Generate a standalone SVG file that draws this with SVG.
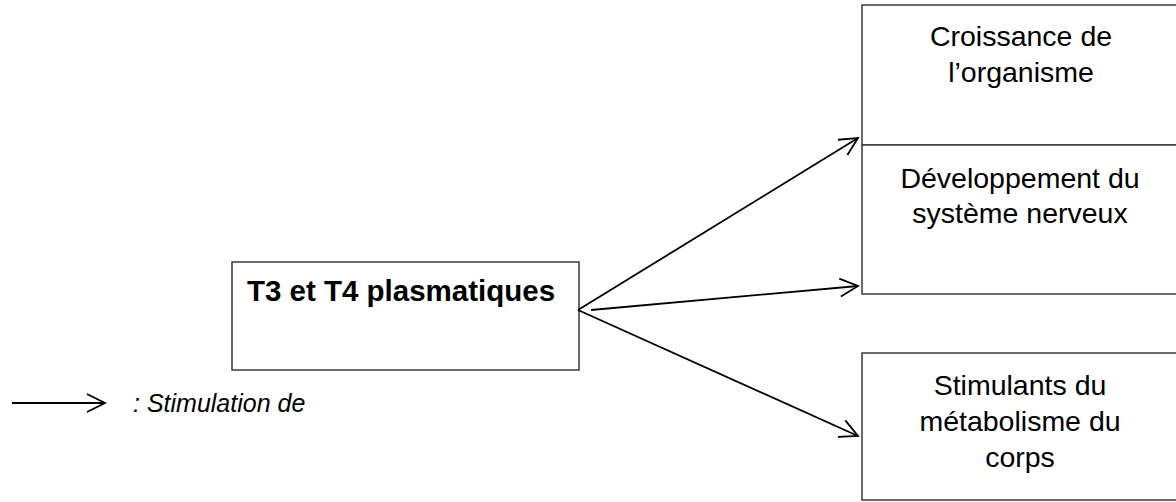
<svg xmlns="http://www.w3.org/2000/svg" width="1176" height="502" viewBox="0 0 1176 502">
  <style>
    .box { fill: #ffffff; stroke: #3a3a3a; stroke-width: 1.5; }
    .lbl { font-family: "Liberation Sans", Arial, sans-serif; font-size: 28.5px; fill: #000000; text-anchor: middle; }
    .bold { font-weight: bold; font-size: 29.5px; }
    .legend { font-family: "Liberation Sans", Arial, sans-serif; font-size: 25px; font-style: italic; fill: #000000; }
    .arrow { stroke: #000000; stroke-width: 1.8; fill: none; marker-end: url(#chevron); }
  </style>
  <defs>
    <marker id="chevron" viewBox="-20 -11 22 22" markerWidth="22" markerHeight="22" refX="0" refY="0" orient="auto" markerUnits="userSpaceOnUse">
      <path d="M -18 -9 L 0 0 L -18 9" fill="none" stroke="#000000" stroke-width="1.8" stroke-linejoin="miter"/>
    </marker>
  </defs>

  <rect width="1176" height="502" fill="#ffffff"/>

  <!-- source -->
  <g id="node-t3t4">
    <rect class="box" x="232" y="262" width="347" height="108"/>
    <text class="lbl bold" x="401" y="301">T3 et T4 plasmatiques</text>
  </g>

  <!-- effects -->
  <g id="node-croissance">
    <rect class="box" x="862" y="5" width="330" height="140"/>
    <text class="lbl" x="1021" y="46">Croissance de</text>
    <text class="lbl" x="1021" y="82">l’organisme</text>
  </g>

  <g id="node-developpement">
    <rect class="box" x="862" y="145" width="330" height="149"/>
    <text class="lbl" x="1020" y="188">Développement du</text>
    <text class="lbl" x="1020" y="223">système nerveux</text>
  </g>

  <g id="node-metabolisme">
    <rect class="box" x="862" y="353" width="330" height="147"/>
    <text class="lbl" x="1020" y="395">Stimulants du</text>
    <text class="lbl" x="1020" y="431">métabolisme du</text>
    <text class="lbl" x="1020" y="467">corps</text>
  </g>

  <!-- connectors -->
  <g id="connectors">
    <line class="arrow" x1="578" y1="310" x2="858" y2="138"/>
    <line class="arrow" x1="591" y1="310" x2="858" y2="286"/>
    <line class="arrow" x1="578" y1="310" x2="858" y2="436"/>
  </g>

  <!-- legend -->
  <g id="legend">
    <line class="arrow" x1="12" y1="403" x2="105" y2="403"/>
    <text class="legend" x="133" y="412">: Stimulation de</text>
  </g>
</svg>
